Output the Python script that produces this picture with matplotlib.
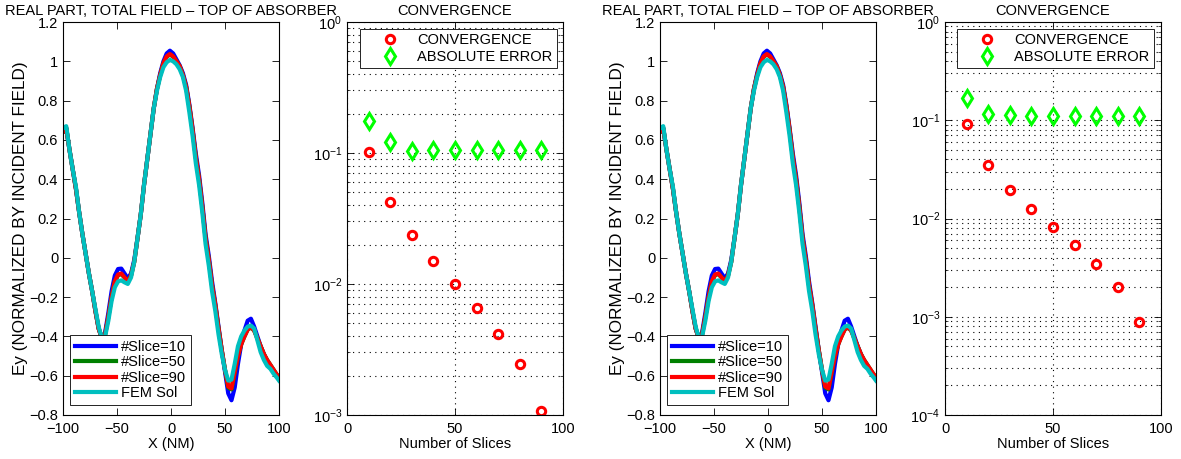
import numpy as np
import matplotlib
matplotlib.use("Agg")
import matplotlib.pyplot as plt
from matplotlib.ticker import FuncFormatter, LogLocator, NullFormatter

plt.rcParams['font.family'] = ['Liberation Sans', 'DejaVu Sans']
plt.rcParams['mathtext.fontset'] = 'custom'
plt.rcParams['mathtext.rm'] = 'Liberation Sans'
plt.rcParams['mathtext.default'] = 'regular'
plt.rcParams['font.size'] = 10.5

# field profile along the top of the absorber
x_nm = [-100, -97, -94, -91, -88, -85, -82, -79, -76, -73, -70, -67, -64, -61, -58, -55,
        -52, -49, -46, -43, -40, -37, -34, -31, -28, -25, -22, -19, -16, -13, -10, -7,
        -4, -1, 2, 5, 8, 11, 14, 17, 20, 23, 26, 29, 32, 35, 38, 41, 44, 47, 50, 53,
        56, 59, 62, 65, 68, 71, 74, 77, 80, 83, 86, 89, 92, 95, 98, 100]

ey_slice10 = [0.64, 0.66, 0.55, 0.45, 0.35, 0.23, 0.12, 0.02, -0.08, -0.17, -0.27, -0.36,
              -0.41, -0.38, -0.28, -0.17, -0.09, -0.057, -0.055, -0.08, -0.105, -0.08,
              -0.01, 0.10, 0.22, 0.37, 0.50, 0.63, 0.76, 0.86, 0.94, 1.0, 1.04, 1.054,
              1.04, 1.01, 0.98, 0.94, 0.88, 0.78, 0.66, 0.53, 0.42, 0.28, 0.12, 0.01,
              -0.12, -0.23, -0.35, -0.47, -0.58, -0.69, -0.725, -0.66, -0.54, -0.44,
              -0.37, -0.32, -0.31, -0.35, -0.40, -0.45, -0.49, -0.525, -0.55, -0.575,
              -0.60, -0.61]

ey_slice50 = [0.64, 0.66, 0.55, 0.45, 0.35, 0.23, 0.12, 0.02, -0.08, -0.17, -0.27, -0.36,
              -0.41, -0.39, -0.30, -0.20, -0.12, -0.088, -0.083, -0.10, -0.12, -0.09,
              -0.02, 0.10, 0.22, 0.37, 0.50, 0.63, 0.76, 0.86, 0.93, 0.99, 1.023, 1.035,
              1.023, 1.0, 0.975, 0.93, 0.87, 0.77, 0.65, 0.51, 0.40, 0.26, 0.10, -0.01,
              -0.14, -0.24, -0.36, -0.47, -0.57, -0.66, -0.67, -0.585, -0.50, -0.44,
              -0.40, -0.365, -0.355, -0.37, -0.41, -0.45, -0.49, -0.52, -0.545, -0.57,
              -0.595, -0.605]

ey_slice90 = [0.64, 0.66, 0.55, 0.45, 0.35, 0.23, 0.12, 0.02, -0.08, -0.17, -0.27, -0.36,
              -0.41, -0.39, -0.30, -0.20, -0.12, -0.085, -0.08, -0.10, -0.12, -0.09,
              -0.02, 0.10, 0.22, 0.37, 0.50, 0.63, 0.76, 0.86, 0.93, 0.99, 1.025, 1.037,
              1.025, 1.0, 0.975, 0.93, 0.87, 0.77, 0.65, 0.51, 0.40, 0.26, 0.10, -0.01,
              -0.14, -0.24, -0.36, -0.47, -0.57, -0.655, -0.665, -0.58, -0.50, -0.44,
              -0.40, -0.365, -0.352, -0.37, -0.41, -0.45, -0.49, -0.52, -0.545, -0.57,
              -0.595, -0.605]

ey_fem = [0.66, 0.67, 0.55, 0.45, 0.36, 0.23, 0.12, 0.02, -0.08, -0.17, -0.26, -0.35,
          -0.41, -0.40, -0.32, -0.22, -0.15, -0.12, -0.115, -0.125, -0.133, -0.10,
          -0.02, 0.10, 0.22, 0.37, 0.50, 0.63, 0.76, 0.85, 0.92, 0.97, 0.995, 1.007,
          1.0, 0.985, 0.96, 0.92, 0.85, 0.74, 0.62, 0.48, 0.37, 0.23, 0.07, -0.04,
          -0.17, -0.27, -0.39, -0.49, -0.57, -0.625, -0.62, -0.54, -0.45, -0.40,
          -0.37, -0.35, -0.345, -0.36, -0.42, -0.48, -0.52, -0.55, -0.565, -0.59,
          -0.61, -0.625]

# convergence data
n_slices = [10, 20, 30, 40, 50, 60, 70, 80, 90]

conv_a = [0.102, 0.0423, 0.0237, 0.0150, 0.00994, 0.00652, 0.00418, 0.00244, 0.00107]
abserr_a = [0.176, 0.121, 0.104, 0.105, 0.105, 0.105, 0.105, 0.105, 0.105]

conv_b = [0.0916, 0.0348, 0.0194, 0.0124, 0.00826, 0.00537, 0.00345, 0.00201, 0.000885]
abserr_b = [0.168, 0.117, 0.114, 0.111, 0.110, 0.110, 0.110, 0.110, 0.110]

W, H = 1181, 459
fig = plt.figure(figsize=(W / 100, H / 100), dpi=100)


def box(l, b, w, h):
    return [l / W, (H - b) / H, w / W, h / H]


def num(v, p):
    return ('%g' % (round(v, 2) + 0.0)).replace('-', '\u2212')


def style(ax):
    ax.tick_params(direction='in', top=True, right=True, length=5, width=0.6,
                   labelsize=10.5, which='major')
    ax.tick_params(axis='x', pad=5)
    ax.tick_params(direction='in', top=True, right=True, length=2.5, width=0.5,
                   which='minor')
    for s in ax.spines.values():
        s.set_linewidth(0.8)


def field_plot(ax):
    ax.plot(x_nm, ey_slice10, color=(0, 0, 1), lw=3, label='#Slice=10')
    ax.plot(x_nm, ey_slice50, color=(0, 0.5, 0), lw=3, label='#Slice=50')
    ax.plot(x_nm, ey_slice90, color=(1, 0, 0), lw=3, label='#Slice=90')
    ax.plot(x_nm, ey_fem, color=(0, 0.75, 0.75), lw=3, label='FEM Sol')
    ax.set_xlim(-100, 100)
    ax.set_ylim(-0.8, 1.2)
    ax.set_xticks([-100, -50, 0, 50, 100])
    ax.set_yticks(np.arange(-0.8, 1.21, 0.2))
    ax.xaxis.set_major_formatter(FuncFormatter(num))
    ax.yaxis.set_major_formatter(FuncFormatter(num))
    style(ax)
    ax.set_xlabel('X (NM)', fontsize=10.5, labelpad=1)
    ax.set_ylabel('Ey (NORMALIZED BY INCIDENT FIELD)', fontsize=12.3, labelpad=1)
    ax.set_title('REAL PART, TOTAL FIELD \u2013 TOP OF ABSORBER', fontsize=10.5, pad=5)
    leg = ax.legend(loc='lower left', bbox_to_anchor=(0.032, 0.025), borderaxespad=0,
                    handlelength=2.8, labelspacing=0.1, fontsize=10.5, fancybox=False,
                    framealpha=1, edgecolor='black', handletextpad=0.35, borderpad=0.35)
    leg.get_frame().set_linewidth(0.6)


def conv_plot(ax, conv, abserr, ymin, legend_right):
    ax.semilogy(n_slices, conv, 'o', ls='none', mfc='none', mec=(1, 0, 0), mew=2.2,
                ms=6, label='CONVERGENCE')
    ax.semilogy(n_slices, abserr, 'd', ls='none', mfc='none', mec=(0, 1, 0), mew=2.2,
                ms=8.5, label='ABSOLUTE ERROR')
    ax.set_xlim(0, 100)
    ax.set_ylim(ymin, 1)
    ax.set_xticks([0, 50, 100])
    ax.yaxis.set_major_locator(LogLocator(base=10))
    ax.yaxis.set_minor_locator(LogLocator(base=10, subs=np.arange(2, 10)))
    ax.yaxis.set_minor_formatter(NullFormatter())
    dots = (0, (1, 4))
    ax.grid(True, which='major', ls=dots, lw=0.8, color='black')
    ax.grid(True, which='minor', axis='y', ls=dots, lw=0.8, color='black')
    style(ax)
    ax.set_xlabel('Number of Slices', fontsize=10.5, labelpad=1)
    ax.set_title('CONVERGENCE', fontsize=10.5, pad=5)
    leg = ax.legend(loc='upper right', bbox_to_anchor=(legend_right, 0.982), borderaxespad=0,
                    handlelength=3.5, labelspacing=0.15, fontsize=10.5, fancybox=False,
                    framealpha=1, edgecolor='black', borderpad=0.3, handletextpad=0.15)
    leg.get_frame().set_linewidth(0.6)


ax1 = fig.add_axes(box(63, 415, 216, 393))
field_plot(ax1)
ax2 = fig.add_axes(box(347, 415, 216, 393))
conv_plot(ax2, conv_a, abserr_a, 1e-3, 0.972)
ax3 = fig.add_axes(box(660, 415, 216, 393))
field_plot(ax3)
ax4 = fig.add_axes(box(945, 415, 216, 393))
conv_plot(ax4, conv_b, abserr_b, 1e-4, 0.968)

fig.savefig('out.png', dpi=100)
